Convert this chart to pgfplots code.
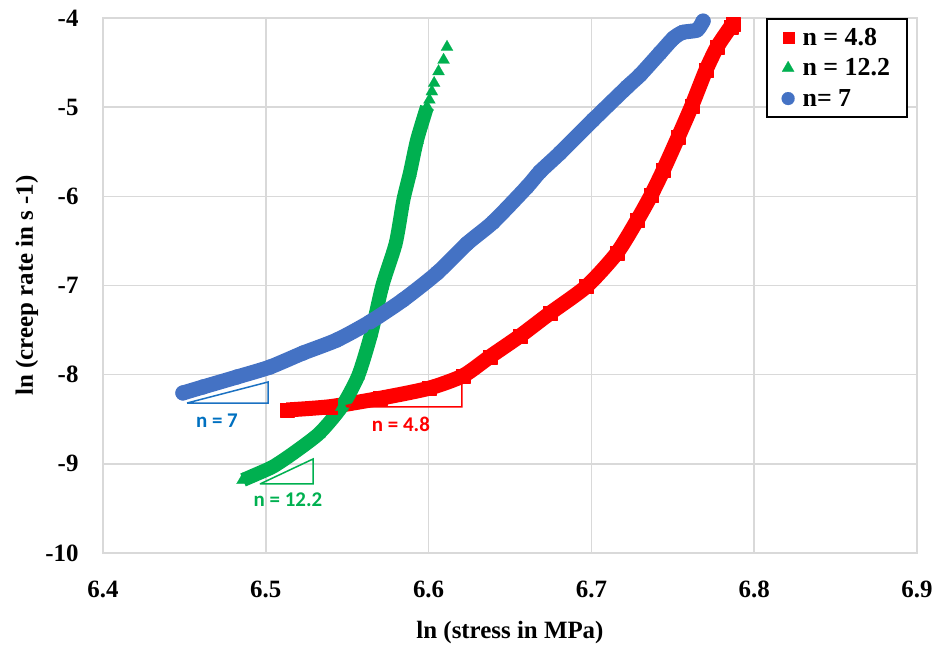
\documentclass[border=0pt]{standalone}
\usepackage{fontspec}
\setmainfont{Liberation Serif}
\newfontfamily\annfont{Carlito}
\usepackage{pgfplots}
\pgfplotsset{compat=1.18}

\definecolor{sred}{HTML}{FF0000}
\definecolor{sgreen}{HTML}{00B050}
\definecolor{sblue}{HTML}{4472C4}
\definecolor{gridgray}{HTML}{D9D9D9}
\definecolor{labblue}{HTML}{0070C0}

\newcommand{\bigbf}{\fontsize{25}{29}\selectfont\bfseries}
\newcommand{\legbf}{\fontsize{26}{30}\selectfont\bfseries}
\newcommand{\annbf}{\annfont\fontsize{21}{24}\selectfont\bfseries}

\begin{document}
\begin{tikzpicture}
\begin{axis}[
  scale only axis,
  width=814bp, height=535bp,
  xmin=6.4, xmax=6.9, ymin=-10, ymax=-4,
  xtick={6.4,6.5,6.6,6.7,6.8,6.9},
  ytick={-10,-9,-8,-7,-6,-5,-4},
  grid=major,
  major grid style={draw=gridgray, line width=1.5bp},
  axis line style={draw=gridgray, line width=1.5bp},
  tick style={draw=none},
  /pgf/number format/assume math mode=true,
  xticklabel style={font=\bigbf, yshift=-24bp, /pgf/number format/.cd, fixed, fixed zerofill, precision=1},
  yticklabel style={font=\bigbf, xshift=-21bp},
  xlabel={ln (stress in MPa)},
  ylabel={ln (creep rate in s -1)},
  xlabel style={font=\bigbf, at={(axis description cs:0.5,-0.1495)}, anchor=center},
  ylabel style={font=\bigbf, at={(axis description cs:-0.0934,0.5)}, anchor=center},
  legend cell align=left,
  legend style={at={(rel axis cs:0.989,1)}, anchor=north east, draw=black, line width=2bp,
    font=\legbf, inner xsep=15bp, inner ysep=7bp, row sep=8bp,
    /tikz/every odd column/.style={column sep=6bp}},
  legend image code/.code={\draw[#1] plot coordinates {(0.3cm,0cm)};},
]

% legend entries
\addlegendimage{only marks, mark=square*, mark size=5.5bp, mark options={line width=0.1bp, fill=sred, draw=sred}}
\addlegendentry{n = 4.8}
\addlegendimage{only marks, mark=triangle*, mark size=7bp, mark options={line width=0.1bp, fill=sgreen, draw=sgreen}}
\addlegendentry{n = 12.2}
\addlegendimage{only marks, mark=*, mark size=6.5bp, mark options={line width=0.1bp, fill=sblue, draw=sblue}}
\addlegendentry{n= 7}

% n = 4.8 series
\addplot[sred, line width=15bp, smooth, tension=0.4, line join=round, line cap=butt, mark=square*, mark size=7bp,
  mark options={line width=0.1bp, fill=sred}, forget plot] coordinates {
  (6.5128,-8.396) (6.5394,-8.359) (6.5701,-8.265) (6.6000,-8.153) (6.6213,-8.011)
  (6.6377,-7.798) (6.6561,-7.566) (6.6746,-7.310) (6.6970,-7.010) (6.7155,-6.640)
  (6.7282,-6.265) (6.7366,-5.990) (6.7442,-5.705) (6.7534,-5.331) (6.7616,-4.987)
  (6.7704,-4.583) (6.7773,-4.322) (6.7856,-4.097) (6.7870,-4.067)
};

% n = 12.2 series, dense part
\addplot[sgreen, line width=14bp, smooth, tension=0.4, line join=round, line cap=butt, mark=triangle*, mark size=7.5bp,
  mark options={line width=0.1bp, fill=sgreen}, forget plot] coordinates {
  (6.4860,-9.181) (6.4950,-9.110) (6.5046,-9.030) (6.5169,-8.880) (6.5329,-8.657)
  (6.5466,-8.360) (6.5568,-8.010) (6.5648,-7.536) (6.5716,-7.000) (6.5798,-6.527)
  (6.5845,-6.041) (6.5885,-5.740) (6.5929,-5.368) (6.5990,-4.998)
};
% n = 12.2 series, sparse points near the top
\addplot[only marks, mark=triangle*, mark size=7bp, mark options={line width=0.1bp, fill=sgreen, draw=sgreen}, forget plot] coordinates {
  (6.6005,-4.919) (6.6020,-4.825) (6.6034,-4.731) (6.6061,-4.600) (6.6092,-4.471) (6.6113,-4.326)
};

% n = 7 series
\addplot[sblue, line width=15bp, smooth, tension=0.4, line join=round, line cap=round, mark=*, mark size=7.5bp,
  mark options={line width=0.1bp, fill=sblue}, forget plot] coordinates {
  (6.4491,-8.205) (6.4614,-8.138) (6.4823,-8.026) (6.5026,-7.914) (6.5229,-7.757)
  (6.5437,-7.611) (6.5640,-7.409) (6.5843,-7.162) (6.6052,-6.860) (6.6236,-6.530)
  (6.6396,-6.290) (6.6604,-5.895) (6.6684,-5.724) (6.6807,-5.514) (6.7010,-5.144)
  (6.7219,-4.774) (6.7299,-4.639) (6.7421,-4.393) (6.7503,-4.228) (6.7561,-4.161)
  (6.7649,-4.135) (6.7686,-4.034)
};

% slope triangles
\addplot[labblue!60!sblue, line width=1.5bp, no markers, forget plot] coordinates {
  (6.4516,-8.318) (6.5014,-8.318) (6.5014,-8.082) (6.4516,-8.318)
};
\addplot[sred, line width=1.5bp, no markers, forget plot] coordinates {
  (6.5456,-8.362) (6.6205,-8.362) (6.6205,-8.060) (6.5456,-8.362)
};
\addplot[sgreen, line width=1.5bp, no markers, forget plot] coordinates {
  (6.4964,-9.226) (6.5290,-9.226) (6.5290,-8.946) (6.4964,-9.226)
};

\node[font=\annbf, text=labblue] at (axis cs:6.4700,-8.52) {n = 7};
\node[font=\annbf, text=sred] at (axis cs:6.5830,-8.56) {n = 4.8};
\node[font=\annbf, text=sgreen] at (axis cs:6.5136,-9.40) {n = 12.2};

\coordinate (bl) at (rel axis cs:0,0);
\coordinate (tr) at (rel axis cs:1,1);
\end{axis}
\pgfresetboundingbox
\path[use as bounding box] ([shift={(-103bp,-98bp)}]bl) rectangle ([shift={(21bp,18bp)}]tr);
\end{tikzpicture}
\end{document}
